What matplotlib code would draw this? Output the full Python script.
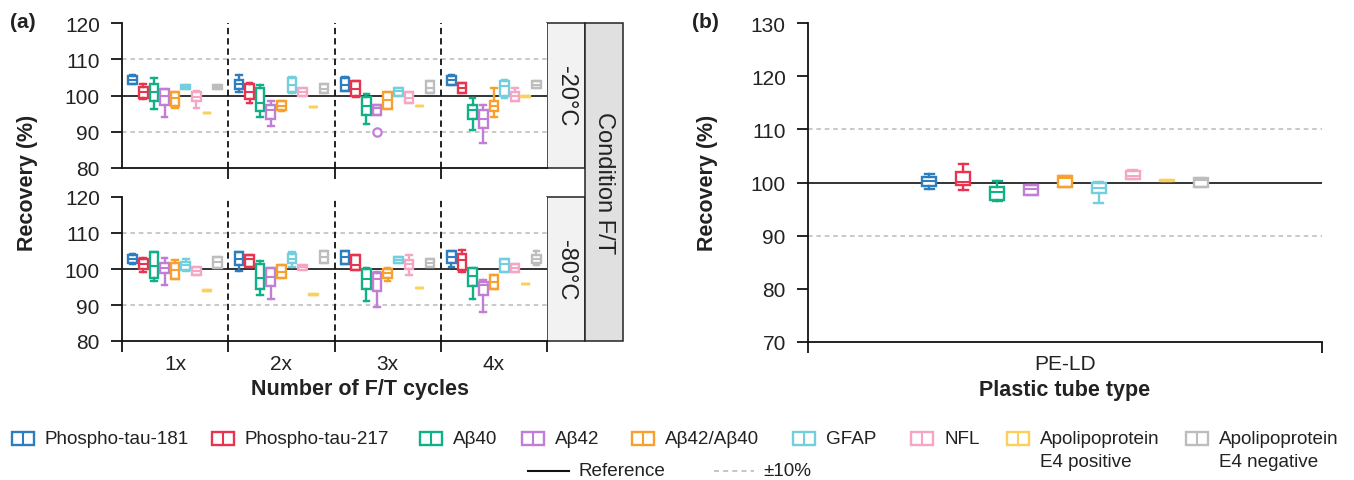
import matplotlib
matplotlib.use("Agg")
import matplotlib.pyplot as plt
from matplotlib.patches import Rectangle
from matplotlib.lines import Line2D

plt.rcParams['font.family'] = ['Liberation Sans', 'DejaVu Sans']

# biomarkers and colours
markers = ['Phospho-tau-181', 'Phospho-tau-217', 'Aβ40', 'Aβ42', 'Aβ42/Aβ40',
           'GFAP', 'NFL', 'Apolipoprotein\nE4 positive', 'Apolipoprotein\nE4 negative']
colors = ['#2e7ebf', '#e8344f', '#10b187', '#c17ed6', '#f8a02e',
          '#73cede', '#f4a6c4', '#fcd15b', '#bdbdbd']

cycles = ['1x', '2x', '3x', '4x']
tube_types = ['PE-LD']

# box stats per biomarker: (lower whisker, q1, median, q3, upper whisker)
m20_1x = [(103.2, 103.2, 104.4, 105.5, 105.6), (98.9, 99.4, 100.9, 102.3, 103.2),
          (96.3, 98.4, 100.9, 103.2, 104.9), (94.0, 97.5, 99.8, 101.7, 101.9),
          (96.6, 97.2, 99.4, 100.9, 100.9), (101.7, 101.7, 102.3, 102.8, 102.8),
          (96.6, 98.4, 99.6, 100.9, 101.2), (95.1, 95.1, 95.2, 95.3, 95.3),
          (101.7, 101.7, 102.3, 102.8, 102.8)]
m20_2x = [(100.9, 101.9, 103.2, 104.4, 105.6), (97.8, 98.9, 100.9, 103.2, 103.5),
          (94.0, 95.7, 98.0, 102.1, 102.8), (91.7, 93.4, 96.1, 97.5, 98.4),
          (95.7, 96.1, 97.2, 98.4, 98.6), (100.7, 100.9, 103.0, 104.7, 105.0),
          (99.8, 99.8, 101.0, 102.1, 102.1), (96.7, 96.7, 96.8, 96.9, 96.9),
          (100.7, 100.7, 101.8, 103.2, 103.2)]
m20_3x = [(101.2, 101.2, 103.0, 104.7, 105.0), (99.6, 99.8, 101.7, 103.9, 103.9),
          (92.2, 94.5, 97.1, 99.6, 100.3), (94.5, 94.5, 96.5, 97.5, 97.5),
          (96.3, 96.3, 98.8, 100.9, 100.9), (100.0, 100.0, 101.2, 102.1, 102.1),
          (98.0, 98.0, 99.4, 100.9, 100.9), (97.0, 97.0, 97.1, 97.2, 97.2),
          (100.7, 100.7, 102.1, 103.9, 103.9)]
m20_4x = [(103.0, 103.0, 104.4, 105.3, 105.6), (100.7, 100.7, 102.1, 103.5, 103.5),
          (90.6, 93.4, 96.1, 97.5, 99.4), (86.8, 91.1, 93.4, 96.0, 97.5),
          (94.0, 95.7, 97.2, 98.6, 102.1), (99.4, 99.8, 102.6, 103.9, 104.4),
          (98.4, 98.6, 99.8, 100.9, 102.1), (99.7, 99.7, 99.8, 99.9, 99.9),
          (102.1, 102.1, 103.0, 103.9, 103.9)]
m20_outliers = {(2, 3): [89.9]}   # (cycle index, biomarker index): values

m80_1x = [(101.3, 101.8, 102.9, 104.0, 104.3), (99.1, 100.0, 101.4, 102.7, 103.1),
          (96.7, 97.6, 100.8, 104.6, 104.6), (95.6, 98.8, 100.4, 101.6, 103.1),
          (97.3, 97.3, 99.7, 101.6, 102.5), (99.5, 99.7, 101.1, 102.0, 102.7),
          (98.2, 98.2, 99.5, 100.6, 100.6), (93.9, 93.9, 94.0, 94.1, 94.1),
          (100.2, 100.2, 102.0, 103.2, 103.2)]
m80_2x = [(99.5, 101.1, 102.7, 104.6, 104.6), (100.6, 100.6, 102.7, 103.8, 103.8),
          (92.7, 94.4, 97.4, 101.5, 102.3), (91.8, 95.2, 97.9, 100.2, 100.2),
          (97.6, 97.6, 99.1, 101.1, 101.1), (100.6, 101.6, 102.9, 104.3, 104.7),
          (99.7, 99.7, 100.5, 101.1, 101.1), (92.8, 92.8, 92.9, 93.0, 93.0),
          (101.6, 101.6, 103.4, 104.9, 104.9)]
m80_3x = [(101.3, 101.3, 103.4, 105.0, 105.0), (99.7, 99.7, 101.1, 104.0, 104.0),
          (91.1, 94.4, 97.2, 100.0, 100.4), (89.4, 93.8, 97.3, 98.8, 99.1),
          (96.7, 97.6, 98.8, 100.0, 100.2), (101.8, 101.8, 102.6, 103.4, 103.4),
          (98.4, 100.0, 101.3, 102.5, 103.8), (94.6, 94.6, 94.7, 94.8, 94.8),
          (100.6, 100.6, 101.8, 102.9, 102.9)]
m80_4x = [(100.6, 101.8, 103.4, 105.0, 105.0), (99.1, 99.7, 102.5, 104.3, 105.4),
          (91.8, 95.4, 98.1, 100.4, 100.4), (88.1, 92.8, 95.6, 96.5, 96.9),
          (94.5, 94.5, 96.3, 98.2, 98.2), (99.3, 99.3, 101.5, 102.9, 102.9),
          (99.1, 99.1, 100.2, 101.3, 101.3), (95.7, 95.7, 95.8, 95.9, 95.9),
          (101.1, 101.6, 102.9, 104.0, 105.0)]
m80_outliers = {}

pe_ld = [(98.8, 99.4, 100.2, 101.0, 101.6), (98.5, 99.6, 100.1, 101.9, 103.5),
         (96.6, 96.8, 98.2, 99.1, 100.2), (97.7, 97.7, 98.7, 99.6, 99.6),
         (99.1, 99.1, 100.9, 101.3, 101.3), (96.2, 98.1, 98.9, 99.9, 100.1),
         (100.6, 100.6, 101.3, 102.1, 102.3), (100.3, 100.3, 100.4, 100.5, 100.5),
         (99.2, 99.2, 100.4, 100.9, 100.9)]

W, H = 1354, 481
fig = plt.figure(figsize=(W / 100, H / 100), dpi=100)


def rect(x0, y0, x1, y1):
    return [x0 / W, 1 - y1 / H, (x1 - x0) / W, (y1 - y0) / H]


TXT = '#222222'


def style_axis(ax, ylim, yticks):
    ax.set_ylim(*ylim)
    ax.set_yticks(yticks)
    for s in ['top', 'right']:
        ax.spines[s].set_visible(False)
    for s in ['left', 'bottom']:
        ax.spines[s].set_linewidth(1.3)
        ax.spines[s].set_color('#111111')
    ax.tick_params(axis='y', length=8, width=1.2, pad=8, labelsize=15, labelcolor=TXT)
    ax.tick_params(axis='x', which='major', length=0, pad=9, labelsize=15, labelcolor=TXT)
    ax.tick_params(axis='x', which='minor', length=8, width=1.2)
    ax.axhline(100, color='#333333', lw=1.4, zorder=1)
    for v in (90, 110):
        ax.axhline(v, color='#bbbbbb', lw=1.1, ls=(0, (3, 2.5)), zorder=1)


def draw_boxes(ax, groups, slot, width, outliers):
    n = len(markers)
    for i, c in enumerate(colors):
        stats, pos = [], []
        for g, grp in enumerate(groups):
            lo, q1, med, q3, hi = grp[i]
            stats.append(dict(whislo=lo, q1=q1, med=med, q3=q3, whishi=hi,
                              fliers=outliers.get((g, i), [])))
            pos.append(g + 1 + (i - (n - 1) / 2) * slot)
        ax.bxp(stats, positions=pos, widths=width, capwidths=width * 0.65,
               patch_artist=True, manage_ticks=False,
               boxprops=dict(facecolor='white', edgecolor=c, lw=1.7),
               whiskerprops=dict(color=c, lw=1.7),
               capprops=dict(color=c, lw=1.7),
               medianprops=dict(color=c, lw=1.5),
               flierprops=dict(marker='o', markerfacecolor='white',
                               markeredgecolor=c, markersize=6, mew=1.6))


# panel (a)
ax_top = fig.add_axes(rect(122, 24, 547, 169))
ax_bot = fig.add_axes(rect(122, 198, 547, 342))
for ax, groups, outl in [(ax_top, [m20_1x, m20_2x, m20_3x, m20_4x], m20_outliers),
                         (ax_bot, [m80_1x, m80_2x, m80_3x, m80_4x], m80_outliers)]:
    style_axis(ax, (80, 120), [80, 90, 100, 110, 120])
    ax.set_xlim(0.5, len(cycles) + 0.5)
    for b in range(1, len(cycles)):
        ax.axvline(b + 0.5, color='#111111', lw=1.3, ls=(0, (3.5, 2.2)), zorder=1)
    draw_boxes(ax, groups, 0.1, 0.082, outl)
    ax.set_xticks(range(1, len(cycles) + 1))

ax_bot.set_xticklabels(cycles)
ax_bot.set_xticks([b + 0.5 for b in range(len(cycles) + 1)], minor=True)
ax_top.set_xticklabels([])
ax_top.set_xticks([b + 0.5 for b in range(1, len(cycles))], minor=True)

# panel (b)
ax_b = fig.add_axes(rect(808, 24, 1322, 343))
style_axis(ax_b, (70, 130), [70, 80, 90, 100, 110, 120, 130])
ax_b.set_xlim(0.5, 1.5)
draw_boxes(ax_b, [pe_ld], 0.066, 0.027, {})
ax_b.set_xticks([1])
ax_b.set_xticklabels(tube_types)
ax_b.set_xticks([0.5, 1.5], minor=True)

# overlay in pixel coordinates for strips, labels and legend
ov = fig.add_axes([0, 0, 1, 1], zorder=-1)
ov.set_xlim(0, W)
ov.set_ylim(H, 0)
ov.axis('off')
ov.patch.set_alpha(0)

for (y0, y1, lab) in [(24, 169, '-20°C'), (198, 342, '-80°C')]:
    ov.add_patch(Rectangle((547, y0), 38, y1 - y0, facecolor='#f2f2f2',
                           edgecolor='#222222', lw=1.1))
    ov.text(566, (y0 + y1) / 2, lab, rotation=-90, ha='center', va='center',
            fontsize=17, color=TXT)
ov.add_patch(Rectangle((585, 24), 38, 318, facecolor='#e0e0e0',
                       edgecolor='#222222', lw=1.1))
ov.text(604, 183, 'Condition F/T', rotation=-90, ha='center', va='center',
        fontsize=17, color=TXT)

ov.text(10, 22, '(a)', fontsize=15, fontweight='bold', ha='left', va='center', color=TXT)
ov.text(692, 22, '(b)', fontsize=15, fontweight='bold', ha='left', va='center', color=TXT)
ov.text(27, 183, 'Recovery (%)', rotation=90, fontsize=15.5, fontweight='bold',
        ha='center', va='center', color=TXT)
ov.text(708, 183, 'Recovery (%)', rotation=90, fontsize=15.5, fontweight='bold',
        ha='center', va='center', color=TXT)
ov.text(360, 390, 'Number of F/T cycles', fontsize=15.5, fontweight='bold',
        ha='center', va='center', color=TXT)
ov.text(1065, 391, 'Plastic tube type', fontsize=15.5, fontweight='bold',
        ha='center', va='center', color=TXT)

# legend
leg_x = [12, 212, 420, 522, 632, 793, 911, 1007, 1186]
for x, c, lab in zip(leg_x, colors, markers):
    ov.add_patch(Rectangle((x, 433), 22, 13, facecolor='white', edgecolor=c, lw=1.7))
    ov.add_line(Line2D([x + 11, x + 11], [433, 446], color=c, lw=1.5))
    lines = lab.split('\n')
    for k, t in enumerate(lines):
        ov.text(x + 33, 440 + 23 * k, t, fontsize=13.6, ha='left', va='center', color=TXT)

ov.add_line(Line2D([528, 569], [472, 472], color='#111111', lw=1.5))
ov.text(579, 472, 'Reference', fontsize=13.6, ha='left', va='center', color=TXT)
ov.add_line(Line2D([714, 754], [472, 472], color='#bbbbbb', lw=1.2, ls=(0, (3, 2.5))))
ov.text(763, 472, '±10%', fontsize=13.6, ha='left', va='center', color=TXT)

fig.savefig('out.png', dpi=100)
